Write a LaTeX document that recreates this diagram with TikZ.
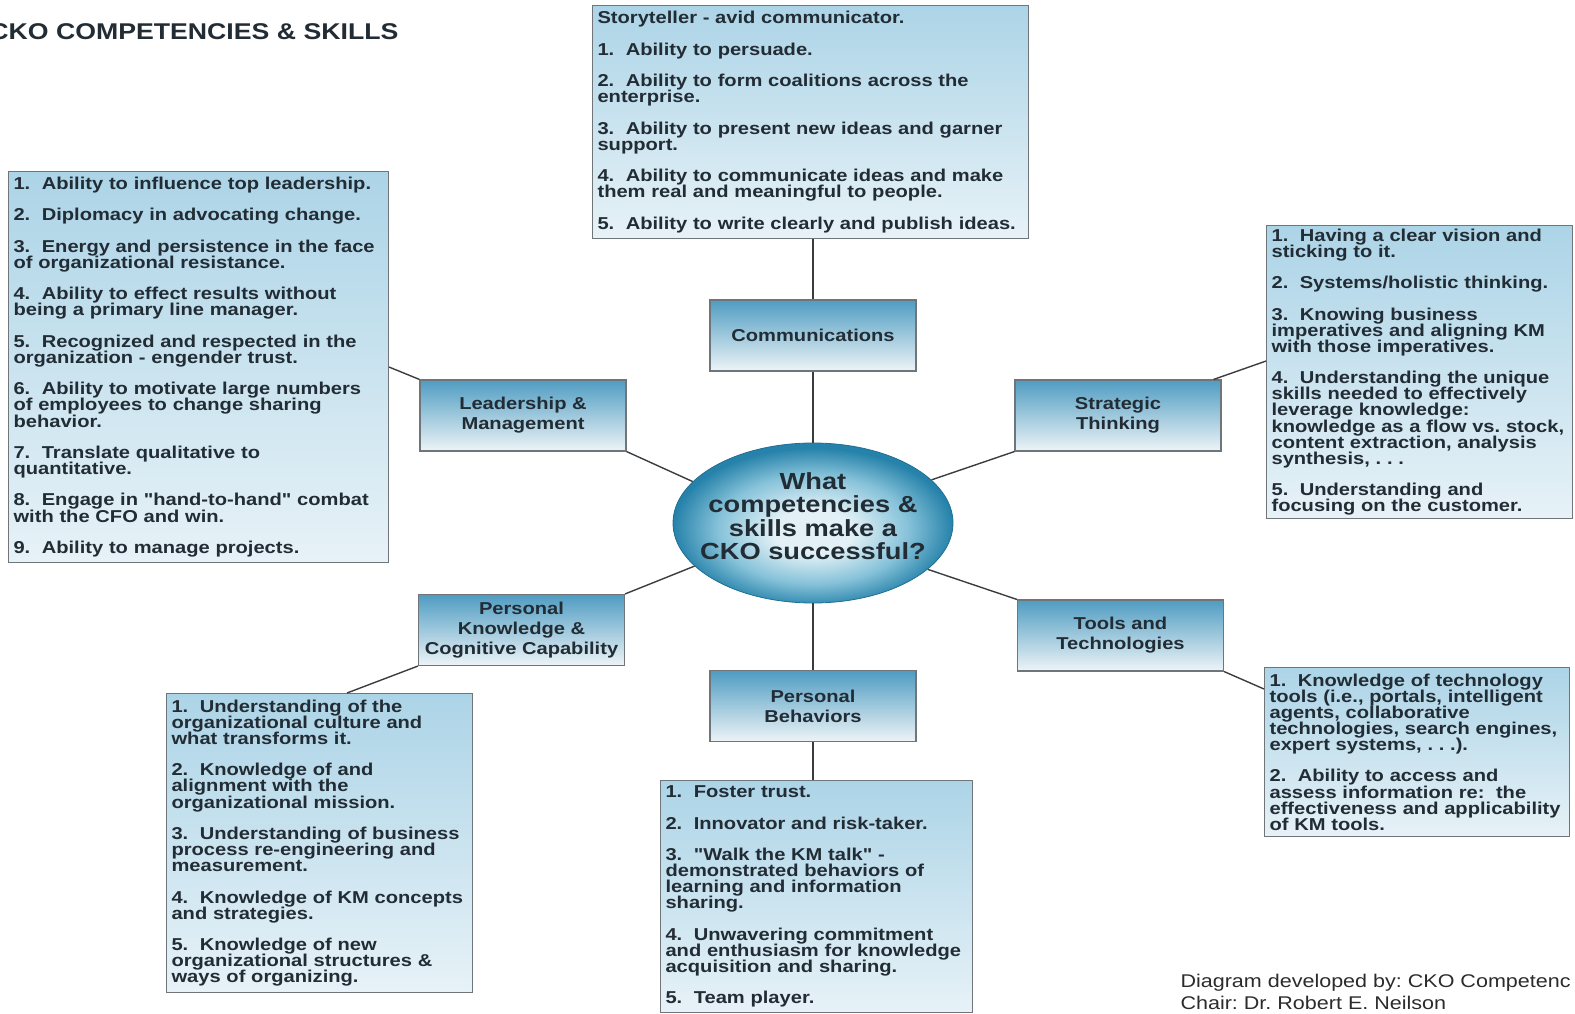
\documentclass[tikz,border=0pt]{standalone}
\usepackage{fontspec}
\setmainfont{Liberation Sans}[FakeStretch=1.17,Ligatures=TeXOff]
\usepackage{xcolor}
\usetikzlibrary{shapes.geometric,calc,positioning}

\definecolor{ink}{HTML}{222C35}
\definecolor{foot}{HTML}{2B2B2B}
\definecolor{listtop}{HTML}{ACD4E7}
\definecolor{listbot}{HTML}{E7F2F7}
\definecolor{cattop}{HTML}{4F9CC2}
\definecolor{catbot}{HTML}{EDF4F7}
\definecolor{boxline}{HTML}{70757A}
\definecolor{linkgray}{HTML}{3A3D40}
\definecolor{coreedge}{HTML}{2682AA}
\definecolor{coremid}{HTML}{86C2D9}
\definecolor{corelight}{HTML}{E3F1F6}
\definecolor{coreline}{HTML}{1F6F93}
\pgfdeclareradialshading{coreglow}{\pgfpoint{0bp}{-3bp}}{color(0bp)=(corelight); color(7bp)=(corelight); color(17bp)=(coremid); color(25bp)=(coreedge); color(50bp)=(coreedge)}

\newcommand{\nxt}{\\[15.3pt]}
\newcommand{\tightlines}{\lineskiplimit=-\maxdimen\hyphenpenalty=10000\frenchspacing}
\frenchspacing

\begin{document}
\begin{tikzpicture}[x=1pt,y=-1pt,
  listbox/.style={draw=boxline,line width=1.1pt,top color=listtop,bottom color=listbot,
    anchor=north west,align=left,inner xsep=5pt,inner ysep=0pt,text=ink,
    font=\fontsize{17.2}{16.1}\selectfont\bfseries\tightlines},
  catbox/.style={draw=boxline,line width=1.1pt,top color=cattop,bottom color=catbot,
    minimum width=206pt,minimum height=71pt,inner sep=2pt,align=center,text=ink,
    font=\fontsize{17.2}{20}\selectfont\bfseries},
  link/.style={draw=linkgray,line width=1.4pt}]
  \useasboundingbox (0,0) rectangle (1575,1014);

  \node[anchor=base east,text=ink,font=\fontsize{22.8}{24}\selectfont\bfseries] (title) at (402,40) {CKO COMPETENCIES \& SKILLS};

  \node[ellipse,draw=coreline,line width=0.8pt,shade,shading=coreglow,minimum width=280pt,minimum height=160pt,
    inner sep=0pt] (core) at (813,523) {};
  \node[align=center,text=ink,font=\fontsize{23.3}{23.5}\selectfont\bfseries] (corequestion) at ([yshift=7pt]core.center)
    {What\\competencies \&\\skills make a\\CKO successful?};

  \node[catbox] (comm)  at (813,335.5)  {Communications};
  \node[catbox] (lead)  at (523,415.5)  {Leadership \&\\Management};
  \node[catbox] (strat) at (1118,415.5) {Strategic\\Thinking};
  \node[catbox] (pk)    at (521.5,630)  {Personal\\Knowledge \&\\Cognitive Capability};
  \node[catbox] (tools) at (1120.5,635.5) {Tools and\\Technologies};
  \node[catbox] (pb)    at (813,706)    {Personal\\Behaviors};

  \node[listbox,text width=426pt,minimum height=233pt] (commlist) at (592,5) {Storyteller - avid communicator.\nxt
    1.~ Ability to persuade.\nxt
    2.~ Ability to form coalitions across the\\enterprise.\nxt
    3.~ Ability to present new ideas and garner\\support.\nxt
    4.~ Ability to communicate ideas and make\\them real and meaningful to people.\nxt
    5.~ Ability to write clearly and publish ideas.};

  \node[listbox,text width=370pt,minimum height=391pt] (leadlist) at (8,171) {1.~ Ability to influence top leadership.\nxt
    2.~ Diplomacy in advocating change.\nxt
    3.~ Energy and persistence in the face\\of organizational resistance.\nxt
    4.~ Ability to effect results without\\being a primary line manager.\nxt
    5.~ Recognized and respected in the\\organization - engender trust.\nxt
    6.~ Ability to motivate large numbers\\of employees to change sharing\\behavior.\nxt
    7.~ Translate qualitative to\\quantitative.\nxt
    8.~ Engage in "hand-to-hand" combat\\with the CFO and win.\nxt
    9.~ Ability to manage projects.};

  \node[listbox,text width=296pt,minimum height=293pt] (stratlist) at (1266,225) {1.~ Having a clear vision and\\sticking to it.\nxt
    2.~ Systems/holistic thinking.\nxt
    3.~ Knowing business\\imperatives and aligning KM\\with those imperatives.\nxt
    4.~ Understanding the unique\\skills needed to effectively\\leverage knowledge:\\knowledge as a flow vs. stock,\\content extraction, analysis\\synthesis, . . .\nxt
    5.~ Understanding and\\focusing on the customer.};

  \node[listbox,text width=296pt,minimum height=299pt] (pklist) at (166,693) {1.~ Understanding of the\\organizational culture and\\what transforms it.\nxt
    2.~ Knowledge of and\\alignment with the\\organizational mission.\nxt
    3.~ Understanding of business\\process re-engineering and\\measurement.\nxt
    4.~ Knowledge of KM concepts\\and strategies.\nxt
    5.~ Knowledge of new\\organizational structures \&\\ways of organizing.};

  \node[listbox,text width=302pt,minimum height=232pt] (pblist) at (660,780) {1.~ Foster trust.\nxt
    2.~ Innovator and risk-taker.\nxt
    3.~ "Walk the KM talk" -\\demonstrated behaviors of\\learning and information\\sharing.\nxt
    4.~ Unwavering commitment\\and enthusiasm for knowledge\\acquisition and sharing.\nxt
    5.~ Team player.};

  \node[listbox,text width=295pt,minimum height=169pt] (toolslist) at (1264,667) {1.~ Knowledge of technology\\tools (i.e., portals, intelligent\\agents, collaborative\\technologies, search engines,\\expert systems, . . .).\nxt
    2.~ Ability to access and\\assess information re:~ the\\effectiveness and applicability\\of KM tools.};

  \draw[link] (commlist.south -| comm.north) -- (comm.north);
  \draw[link] (comm.south) -- (core.north);
  \draw[link] (leadlist.east) -- (lead.north west);
  \draw[link] (lead.south east) -- (core.161);
  \draw[link] ([yshift=11pt]stratlist.west) -- ([xshift=-8pt]strat.north east);
  \draw[link] (strat.south west) -- (core.20);
  \draw[link] (core.200) -- (pk.north east);
  \draw[link] (pk.south west) -- ([xshift=181pt]pklist.north west);
  \draw[link] (core.-22) -- (tools.north west);
  \draw[link] (tools.south east) -- ([yshift=-22pt]toolslist.north west);
  \draw[link] (core.south) -- (pb.north);
  \draw[link] (pb.south) -- (pb.south |- pblist.north);

  \node[anchor=base west,text=foot,font=\fontsize{18.4}{22}\selectfont] (credit) at (1177,987) {Diagram developed by: CKO Competenc};
  \node[anchor=base west,text=foot,font=\fontsize{18.4}{22}\selectfont] (chair) at (1177,1009) {Chair: Dr. Robert E. Neilson};
\end{tikzpicture}
\end{document}
